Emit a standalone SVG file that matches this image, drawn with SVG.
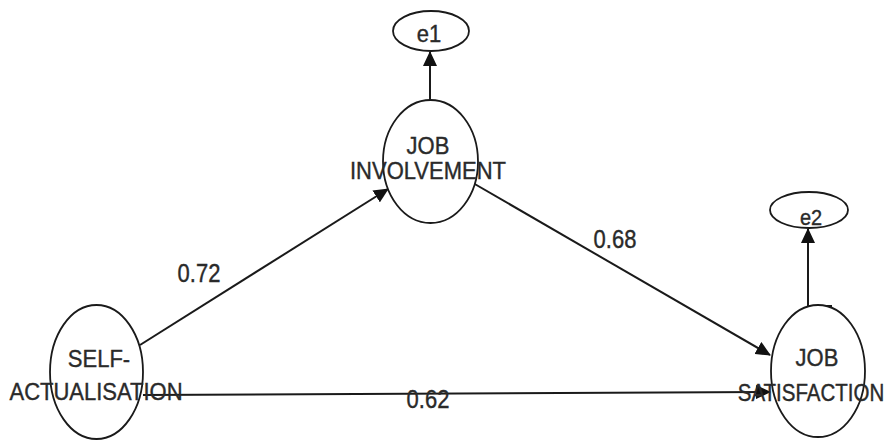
<svg xmlns="http://www.w3.org/2000/svg" width="891" height="441" viewBox="0 0 891 441">
<style>
.node{fill:#ffffff;stroke:#1a1a1a;stroke-width:1.8}
.lbl{font-family:"Liberation Sans",Arial,sans-serif;font-size:22px;fill:#2a2a2a;stroke:#2a2a2a;stroke-width:0.35;text-anchor:middle}
.edge{fill:none;stroke:#1a1a1a;stroke-width:2;marker-end:url(#arr)}
</style>
<defs>
<marker id="arr" markerUnits="userSpaceOnUse" markerWidth="16" markerHeight="14" refX="14" refY="7" orient="auto">
<path d="M0,0 L15,7 L0,14 Z" fill="#111"/>
</marker>
</defs>
<rect width="891" height="441" fill="#ffffff"/>
<g id="connectors">
<path class="edge" d="M430,100 V52"/>
<path class="edge" d="M832,306 H808 V229"/>
<path class="edge" d="M140,345 L388,189"/>
<path class="edge" d="M473,183 L770,355"/>
<path class="edge" d="M143,395 L770,392"/>
</g>
<g id="e1">
<ellipse class="node" cx="431" cy="31" rx="38" ry="20"/>
<text class="lbl" transform="translate(429,42) scale(1,1.12)">e1</text>
</g>
<g id="e2">
<ellipse class="node" cx="809" cy="210" rx="39" ry="18"/>
<text class="lbl" style="font-size:20px" transform="translate(811,225) scale(1,1.1)">e2</text>
</g>
<g id="job-involvement">
<ellipse class="node" cx="430.5" cy="161.5" rx="47.5" ry="61.5"/>
<text class="lbl" transform="translate(428,154) scale(1,1.12)">JOB</text>
<text class="lbl" transform="translate(428,179) scale(1,1.12)">INVOLVEMENT</text>
</g>
<g id="self-actualisation">
<ellipse class="node" cx="96.5" cy="372" rx="46.5" ry="67"/>
<text class="lbl" transform="translate(99,367) scale(1,1.12)">SELF-</text>
<text class="lbl" transform="translate(96,400) scale(1,1.12)">ACTUALISATION</text>
</g>
<g id="job-satisfaction">
<ellipse class="node" cx="818" cy="371" rx="47" ry="66"/>
<text class="lbl" transform="translate(817,366) scale(1,1.12)">JOB</text>
<text class="lbl" style="font-size:20.5px" transform="translate(811,401) scale(1,1.2)">SATISFACTION</text>
</g>
<g id="edge-labels">
<text class="lbl" transform="translate(199,282) scale(1,1.15)">0.72</text>
<text class="lbl" transform="translate(615,248) scale(1,1.15)">0.68</text>
<text class="lbl" transform="translate(428,408) scale(1,1.15)">0.62</text>
</g>
</svg>
